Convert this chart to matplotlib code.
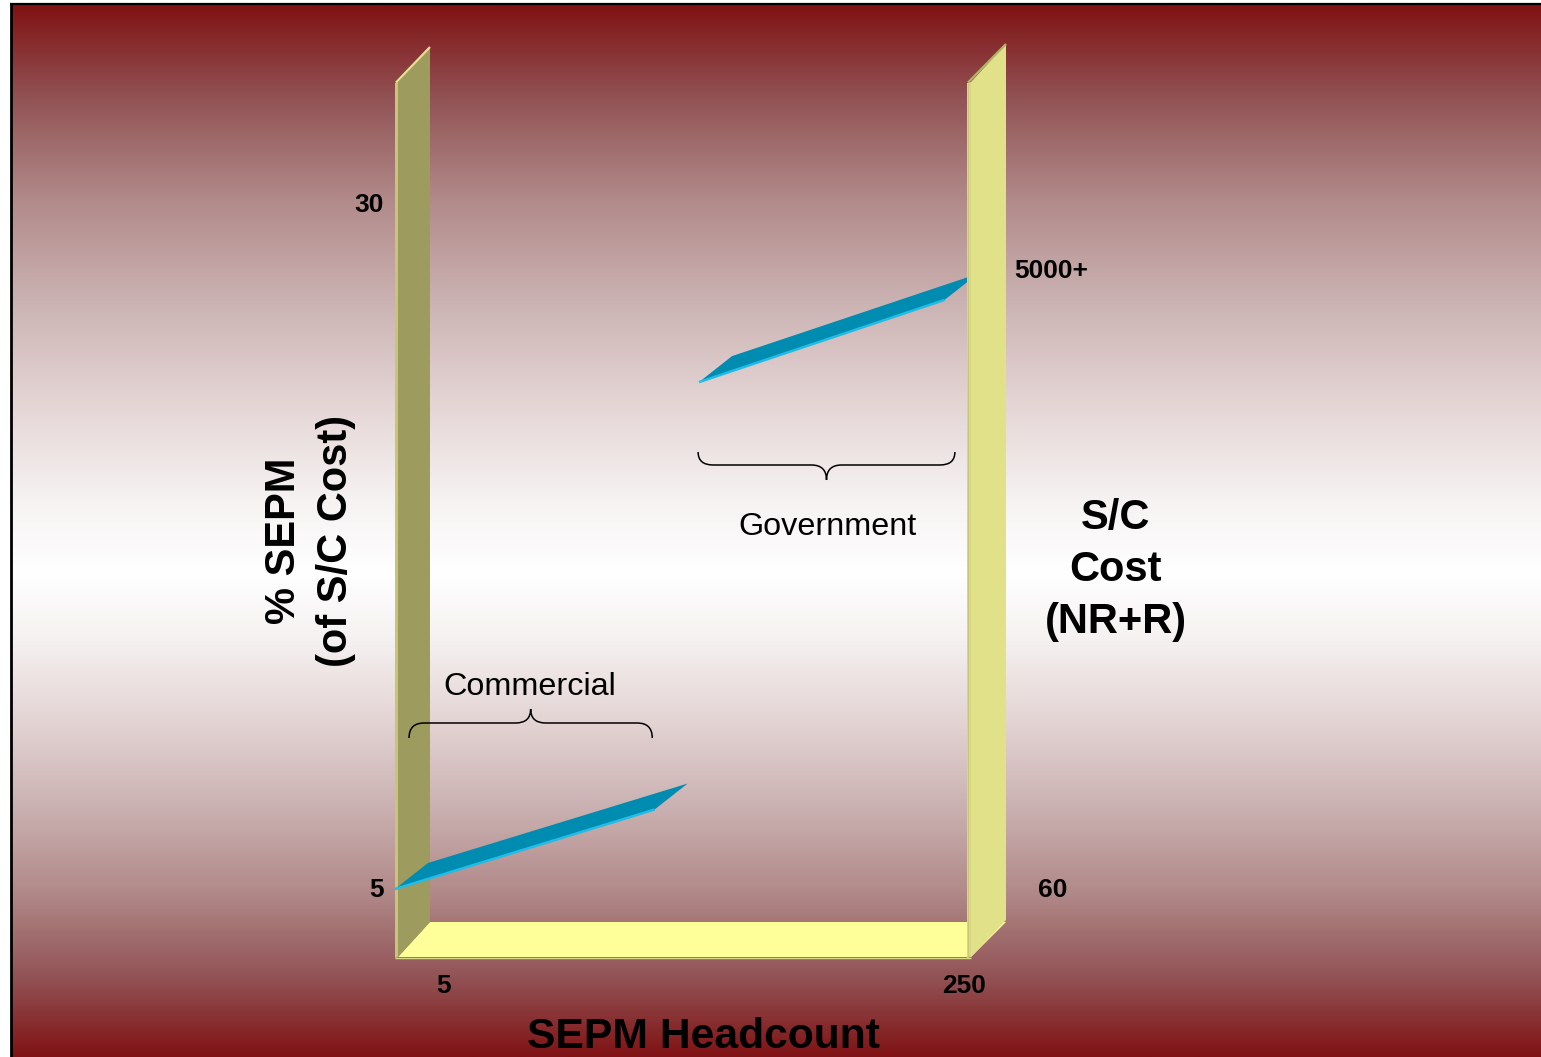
import numpy as np
import matplotlib
matplotlib.use("Agg")
import matplotlib.pyplot as plt
from matplotlib.patches import Polygon, PathPatch
from matplotlib.path import Path

# ---- chart values -------------------------------------------------------
headcount_ticks = [5, 250]
headcount_labels = ["5", "250"]
sepm_ticks = [5, 30]
sepm_labels = ["5", "30"]
cost_ticks = [60, 5000]
cost_labels = ["60", "5000+"]

# front-edge endpoints of each band: (SEPM headcount, % SEPM)
commercial_headcount = [5, 116]
commercial_sepm = [5.0, 7.9]
government_headcount = [135, 240]
government_sepm = [23.5, 26.5]

# horizontal extent of the group braces (headcount)
commercial_span = [11, 115]
government_span = [134.6, 244.4]

# ---- canvas -------------------------------------------------------------
W, H = 1541, 1057
fig = plt.figure(figsize=(W / 100, H / 100), dpi=100)
plt.rcParams["font.family"] = ["Liberation Sans", "DejaVu Sans"]

# pixel anchors of the axis scales
PX_X5, PX_X250 = 395.0, 968.0
PX_Y5, PX_Y30 = 889.0, 204.0
kx = (headcount_ticks[1] - headcount_ticks[0]) / (PX_X250 - PX_X5)
ky = (sepm_ticks[1] - sepm_ticks[0]) / (PX_Y5 - PX_Y30)

def to_data(px, py):
    return (headcount_ticks[0] + (px - PX_X5) * kx,
            sepm_ticks[0] + (PX_Y5 - py) * ky)

ax = fig.add_axes([0, 0, 1, 1])
x_lo, y_hi = to_data(0, 0)
x_hi, y_lo = to_data(W, H)
ax.set_xlim(x_lo, x_hi)
ax.set_ylim(y_lo, y_hi)
ax.axis("off")

# cost axis shares the vertical extent (linear in plotted units)
ax_cost = ax.twinx()
c_scale = (cost_ticks[1] - cost_ticks[0]) / (PX_Y5 - 270.0)
ax_cost.set_ylim(cost_ticks[0] - (H - PX_Y5) * c_scale, cost_ticks[0] + PX_Y5 * c_scale)
ax_cost.axis("off")

# ---- background gradient (dark red -> white -> dark red) -----------------
stop_t = np.array([0.0, 0.167, 0.343, 0.52, 0.695, 0.87, 1.0])
stop_rgb = np.array([[128, 18, 20], [146, 84, 86], [178, 138, 138],
                     [203, 178, 178], [228, 212, 212], [246, 242, 242],
                     [255, 255, 255]]) / 255.0
top_px, bot_px, white_px = 5.0, float(H), 573.0
ys = np.linspace(top_px, bot_px, 800)
t = np.where(ys < white_px, (ys - top_px) / (white_px - top_px),
             (bot_px - ys) / (bot_px - white_px))
grad = np.stack([np.interp(t, stop_t, stop_rgb[:, c]) for c in range(3)], axis=1)
grad = grad[:, None, :]
bx0, by0 = to_data(12, top_px)
bx1, by1 = to_data(W, bot_px)
ax.imshow(grad, extent=[bx0, bx1, by1, by0], aspect="auto", origin="upper",
          zorder=0, interpolation="bilinear")

def poly_px(pts, color, z):
    ax.add_patch(Polygon([to_data(*p) for p in pts], closed=True,
                         facecolor=color, edgecolor="none", zorder=z))

def line_px(pts, color, lw, z):
    d = [to_data(*p) for p in pts]
    ax.plot([p[0] for p in d], [p[1] for p in d], color=color, lw=lw, zorder=z,
            solid_capstyle="butt")

# panel border
line_px([(11, H), (11, 4)], "black", 2.0, 20)
line_px([(10, 4), (W, 4)], "black", 1.6, 20)

# ---- frame: floor and side walls ---------------------------------------
poly_px([(398, 957), (430, 922), (1006, 922), (971, 957)], "#ffff99", 2)
line_px([(395, 957.5), (971, 957.5)], "#d9d98a", 1.0, 2.1)
# left wall
poly_px([(398, 957), (430, 922), (430, 47), (398, 82)], "#9e9b5f", 3)
poly_px([(395, 958), (398, 957), (398, 82), (395, 83)], "#c8c57a", 3)
line_px([(396, 82.5), (430, 47)], "#e4e08e", 1.6, 3.1)
# right wall
poly_px([(971, 957), (1006, 920), (1006, 44), (971, 82)], "#e1e18a", 8)
poly_px([(967, 958), (971, 957), (971, 82), (967, 83)], "#d9d983", 8)
line_px([(967.5, 83), (967.5, 957)], "#c9c978", 0.8, 8.1)
line_px([(968, 82.5), (1006, 44)], "#b4b16a", 1.6, 8.1)

# ---- bands ----------------------------------------------------------------
depth_x = 33 * kx
depth_y = 26 * ky

def band(hc, sp):
    f0 = (hc[0], sp[0])
    f1 = (hc[1], sp[1])
    b0 = (hc[0] + depth_x, sp[0] + depth_y)
    b1 = (hc[1] + depth_x, sp[1] + depth_y)
    ax.add_patch(Polygon([f0, b0, b1, f1], closed=True, facecolor="#008bb1",
                         edgecolor="none", zorder=5))
    ax.plot([f0[0], f1[0]], [f0[1], f1[1]], color="#20bde6", lw=1.8,
            zorder=5.1, solid_capstyle="butt")

band(commercial_headcount, commercial_sepm)
band(government_headcount, government_sepm)

# ---- braces -----------------------------------------------------------------
def brace(span, y_end, y_line, y_tip, r=15):
    x0 = PX_X5 + (span[0] - headcount_ticks[0]) / kx
    x1 = PX_X5 + (span[1] - headcount_ticks[0]) / kx
    xm = 0.5 * (x0 + x1)
    pts = [(x0, y_end), (x0, y_line), (x0 + r, y_line),
           (xm - r, y_line),
           (xm, y_line), (xm, y_tip),
           (xm, y_line), (xm + r, y_line),
           (x1 - r, y_line),
           (x1, y_line), (x1, y_end)]
    codes = [Path.MOVETO, Path.CURVE3, Path.CURVE3,
             Path.LINETO,
             Path.CURVE3, Path.CURVE3,
             Path.CURVE3, Path.CURVE3,
             Path.LINETO,
             Path.CURVE3, Path.CURVE3]
    path = Path([to_data(*p) for p in pts], codes)
    ax.add_patch(PathPatch(path, facecolor="none", edgecolor="black",
                           lw=1.1, zorder=6))

brace(commercial_span, 738, 723, 709)
brace(government_span, 452, 465, 480)

ax.text(*to_data(530, 687), "Commercial", fontsize=23.3, ha="center",
        va="center", zorder=7)
ax.text(*to_data(828, 527), "Government", fontsize=23.3, ha="center",
        va="center", zorder=7)

# ---- tick labels ------------------------------------------------------------
tick_kw = dict(fontsize=19, fontweight="bold", va="center", zorder=7)
for v, lab in zip(sepm_ticks, sepm_labels):
    ax.annotate(lab, xy=(headcount_ticks[0], v), xytext=(-11, -1),
                textcoords="offset pixels", ha="right", **tick_kw)
for v, lab, dx in zip(headcount_ticks, headcount_labels, [49, -4]):
    ax.annotate(lab, xy=(v, to_data(0, 957)[1]), xytext=(dx, -29),
                textcoords="offset pixels", ha="center", **tick_kw)
for v, lab, dx in zip(cost_ticks, cost_labels, [85, 83]):
    ax_cost.annotate(lab, xy=(to_data(PX_X250, 0)[0], v), xytext=(dx, -1),
                     textcoords="offset pixels", ha="center", **tick_kw)

# ---- axis titles ------------------------------------------------------------
ax.text(*to_data(310, 541), "% SEPM\n(of S/C Cost)", rotation=90,
        fontsize=30, fontweight="bold", ha="center", va="center",
        multialignment="center", linespacing=1.4, zorder=7)
ax.text(*to_data(1116, 570), "S/C\nCost\n(NR+R)", fontsize=30,
        fontweight="bold", ha="center", va="center",
        multialignment="center", linespacing=1.4, zorder=7)
ax.text(*to_data(703, 1037), "SEPM Headcount", fontsize=30.7,
        fontweight="bold", ha="center", va="center", zorder=7)

fig.savefig("out.png", dpi=100)
